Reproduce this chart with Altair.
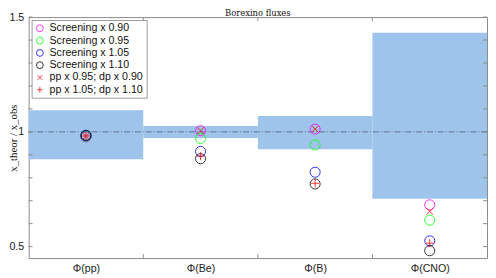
import altair as alt
import pandas as pd

# ---- data ----
categories = ["Φ(pp)", "Φ(Be)", "Φ(B)", "Φ(CNO)"]
cat_pos = [1, 2, 3, 4]
band_low = [0.881, 0.973, 0.924, 0.709]
band_high = [1.094, 1.026, 1.069, 1.432]

series_names = [
    "Screening x 0.90",
    "Screening x 0.95",
    "Screening x 1.05",
    "Screening x 1.10",
    "pp x 0.95; dp x 0.90",
    "pp x 1.05; dp x 1.10",
]
series_colors = ["#ff00ff", "#00ff00", "#0000ff", "#000000", "#ff0000", "#ff0000"]
screen_090 = [0.978, 1.005, 1.012, 0.682]
screen_095 = [0.980, 0.971, 0.943, 0.615]
screen_105 = [0.983, 0.915, 0.824, 0.525]
screen_110 = [0.985, 0.883, 0.773, 0.482]
pp095_dp090 = [0.981, 1.005, 1.012, 0.654]
pp105_dp110 = [0.982, 0.894, 0.776, 0.515]
series_values = [screen_090, screen_095, screen_105, screen_110, pp095_dp090, pp105_dp110]

y_tick_values = [0.5, 0.6, 0.7, 0.8, 0.9, 1.0, 1.1, 1.2, 1.3, 1.4, 1.5]
y_label_values = [0.5, 1.0, 1.5]
x_boundaries = [1.5, 2.5, 3.5]
reference_value = 1.0
chart_title = "Borexino fluxes"

# ---- tables ----
bands = pd.DataFrame({
    "x0": [p - 0.5 for p in cat_pos],
    "x1": [p + 0.5 for p in cat_pos],
    "y": band_low,
    "y2": band_high,
})
rows = []
for name, vals in zip(series_names, series_values):
    for p, v in zip(cat_pos, vals):
        rows.append({"x": p, "y": v, "series": name})
points = pd.DataFrame(rows)
yticks_df = pd.DataFrame({"y": y_tick_values})
xticks_df = pd.DataFrame({"x": x_boundaries})

W, H = 466, 245
TICK = 4
AXIS_GRAY = "#8a8a8a"
SANS = "Liberation Sans"
FS = 10.8

label_expr = " : ".join(
    [f"datum.value == {p} ? '{c}'" for p, c in zip(cat_pos, categories)]
) + " : ''"

xscale = alt.Scale(domain=[0.5, 4.5], nice=False, zero=False)
yscale = alt.Scale(domain=[0.45, 1.5], nice=False, zero=False)
xaxis = alt.Axis(values=cat_pos, labelExpr=label_expr, ticks=False, domain=False,
                 grid=False, labelPadding=5, labelFontSize=FS, labelFont=SANS,
                 labelColor="#222", title=None)
yaxis = alt.Axis(values=y_label_values, format="~g", ticks=False, domain=False, grid=False,
                 labelPadding=5, labelFontSize=FS, labelFont=SANS,
                 labelColor="#222", title="x_theor / x_obs", titleFont="Liberation Serif",
                 titleFontSize=11, titleFontWeight="normal", titleX=-15, titleY=H / 2,
                 titleAngle=-90, titleAlign="center", titleBaseline="middle",
                 titleColor="#111")


def X(f):
    return alt.X(f, type="quantitative", scale=xscale, axis=xaxis)


def Y(f):
    return alt.Y(f, type="quantitative", scale=yscale, axis=yaxis)


band_layer = alt.Chart(bands).mark_rect(color="#9ec4eb").encode(
    x=X("x0"), x2="x1", y=Y("y"), y2="y2"
)

ref_line = alt.Chart(pd.DataFrame({"y": [reference_value]})).mark_rule(
    color="#4f5b78", strokeDash=[6, 2, 1, 2], strokeWidth=0.8
).encode(y=Y("y"))

left_ticks = alt.Chart(yticks_df).mark_rule(color=AXIS_GRAY).encode(
    y=Y("y"), x=alt.value(0), x2=alt.value(TICK)
)
right_ticks = alt.Chart(yticks_df).mark_rule(color=AXIS_GRAY).encode(
    y=Y("y"), x=alt.value(W - TICK), x2=alt.value(W)
)
top_ticks = alt.Chart(xticks_df).mark_rule(color=AXIS_GRAY).encode(
    x=X("x"), y=alt.value(0), y2=alt.value(TICK)
)
bottom_ticks = alt.Chart(xticks_df).mark_rule(color=AXIS_GRAY).encode(
    x=X("x"), y=alt.value(H - TICK), y2=alt.value(H)
)

title_layer = alt.Chart(pd.DataFrame({"t": [chart_title]})).mark_text(
    font="DejaVu Serif", fontSize=8.5, baseline="alphabetic", align="center", color="#111"
).encode(text="t:N", x=alt.value(W / 2), y=alt.value(-1.2))

# marker glyphs (x and + drawn smaller than the circles)
shapes = ["circle", "circle", "circle", "circle",
          "M-0.68,-0.68L0.68,0.68M-0.68,0.68L0.68,-0.68",
          "M-0.8,0L0.8,0M0,-0.8L0,0.8"]

pad = "\u00a0" * 11
legend = alt.Legend(orient="none", legendX=3, legendY=3, title=None,
                    strokeColor="#9a9a9a", fillColor="white", padding=3,
                    rowPadding=0.5, labelFontSize=FS, labelFont=SANS,
                    labelColor="#111", symbolSize=48, symbolStrokeWidth=1,
                    labelOffset=4.4, labelLimit=400,
                    labelExpr=f"datum.label + '{pad}'")

color_enc = alt.Color("series:N", scale=alt.Scale(domain=series_names, range=series_colors),
                      legend=legend, sort=series_names)
shape_enc = alt.Shape("series:N", scale=alt.Scale(domain=series_names, range=shapes),
                      legend=legend, sort=series_names)

point_layer = alt.Chart(points).mark_point(filled=False, strokeWidth=1, opacity=0.8).encode(
    x=X("x"), y=Y("y"), color=color_enc, shape=shape_enc, size=alt.value(105)
)

chart = alt.layer(
    band_layer, ref_line, left_ticks, right_ticks, top_ticks, bottom_ticks,
    point_layer, title_layer
).properties(
    width=W,
    height=H,
    autosize=alt.AutoSizeParams(type="none"),
    padding={"left": 21, "top": 7, "right": 1, "bottom": 18},
).configure_view(
    stroke=AXIS_GRAY, strokeWidth=1
)

chart.save("out.html", embed_options={"renderer": "svg", "actions": False})
